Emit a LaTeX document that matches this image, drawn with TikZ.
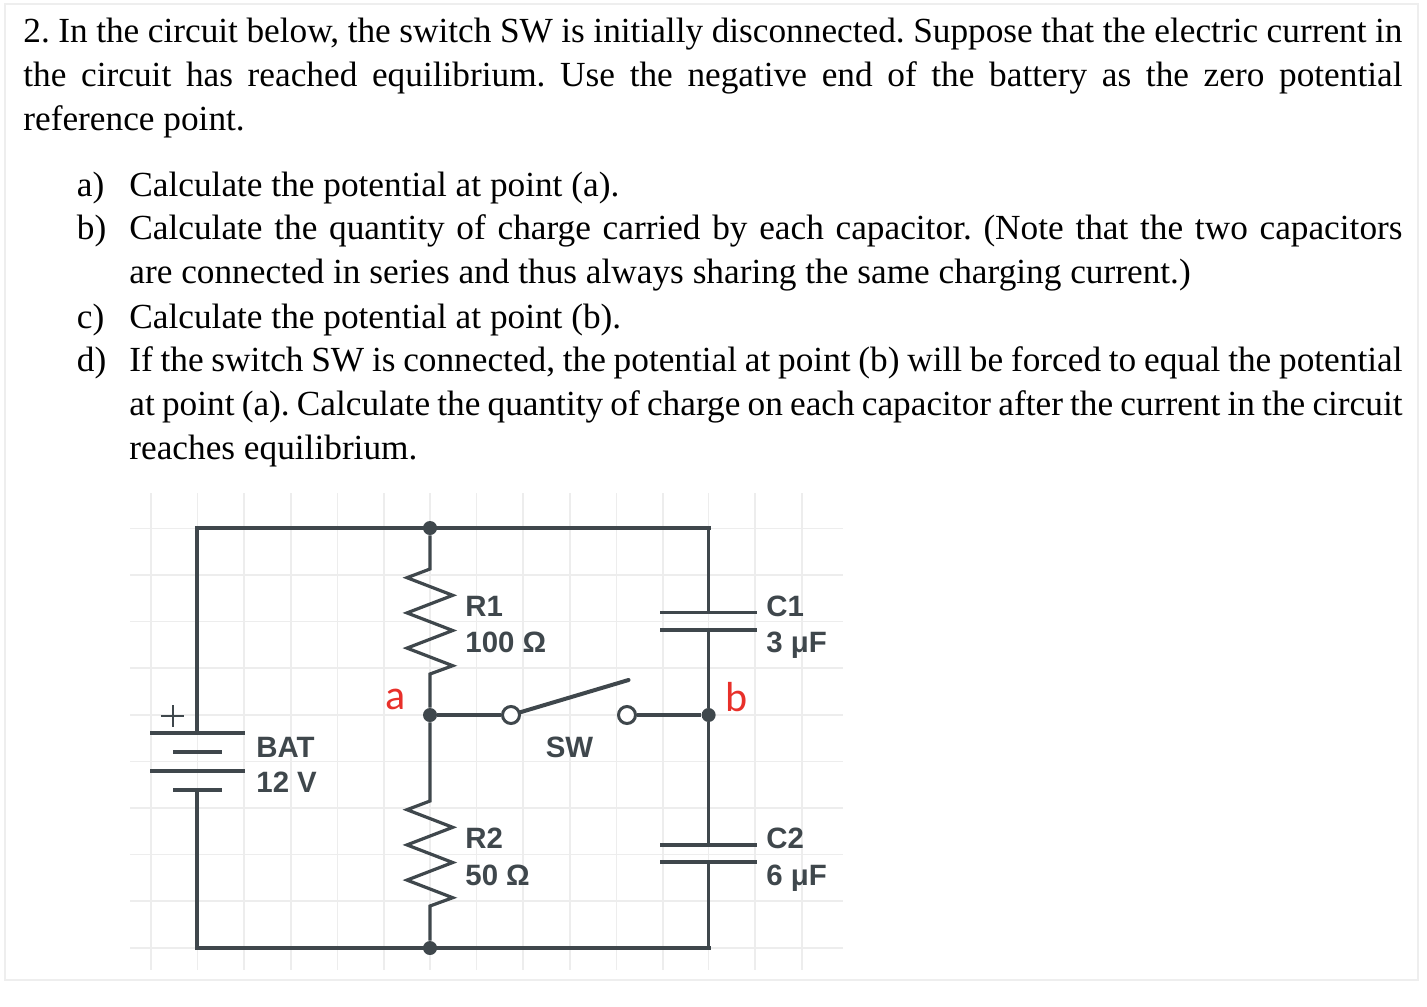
\documentclass[tikz,border=0pt]{standalone}
\usepackage{fontspec}
\setmainfont{Liberation Serif}
\newfontfamily\labelfont{Liberation Sans}
\newfontfamily\markfont{Carlito}
\definecolor{wirecol}{HTML}{3F474C}
\definecolor{gridcol}{HTML}{EDEDED}
\definecolor{framecol}{HTML}{EEEEEE}
\definecolor{markcol}{HTML}{E8302A}
\tolerance=9999
\hyphenpenalty=10000
\emergencystretch=3em
\frenchspacing
\tikzset{
  wire/.style={line width=1.6pt, wirecol},
  rail/.style={line width=1.9pt, wirecol},
  plate/.style={line width=1.6pt, wirecol},
  gridline/.style={line width=0.8pt, gridcol},
  junction/.style={circle, fill=wirecol, inner sep=0pt, minimum size=7pt},
  terminal/.style={circle, draw=wirecol, line width=1.5pt, fill=white, inner sep=0pt, minimum size=8.5pt},
  parttext/.style={inner sep=0pt, anchor=west, text height=10.5pt, text depth=0pt, wirecol, font=\labelfont\bfseries\fontsize{14.7}{15}\selectfont},
  marktext/.style={inner sep=0pt, markcol, font=\markfont\fontsize{21}{21}\selectfont},
  bodytext/.style={inner sep=0pt, anchor=north west, align=justify, font=\fontsize{17.64}{22}\selectfont},
  marktop/.style={inner sep=0pt, anchor=north west, font=\fontsize{17.64}{22}\selectfont},
}
\begin{document}
\begin{tikzpicture}[x=0.5pt,y=-0.5pt]
    \useasboundingbox (0,0) rectangle (1427,1006);
    \fill[white] (0,0) rectangle (1427,1006);
    \draw[framecol, line width=1pt] (5,4) rectangle (1418,980);

    % question text
    \node[bodytext, text width=689.5pt] (intro) at (23,11) {\strut 2. In the circuit below, the switch SW is initially disconnected. Suppose that the electric current in\linebreak
        the circuit has reached equilibrium. Use the negative end of the battery as the zero potential\linebreak
        reference point.\strut};
    \node[marktop] (la) at (76.5,165) {\strut a)};
    \node[bodytext, text width=636.5pt] (qa) at (129,165) {\strut Calculate the potential at point (a).};
    \node[marktop] (lb) at (76.5,208.5) {\strut b)};
    \node[bodytext, text width=636.5pt] (qb) at (129,208.5) {\strut Calculate the quantity of charge carried by each capacitor. (Note that the two capacitors\linebreak
        are connected in series and thus always sharing the same charging current.)\strut};
    \node[marktop] (lc) at (76.5,297) {\strut c)};
    \node[bodytext, text width=636.5pt] (qc) at (129,297) {\strut Calculate the potential at point (b).};
    \node[marktop] (ld) at (76.5,340.5) {\strut d)};
    \node[bodytext, text width=636.5pt] (qd) at (129,340.5) {\strut If the switch SW is connected, the potential at point (b) will be forced to equal the potential\linebreak
        at point (a). Calculate the quantity of charge on each capacitor after the current in the circuit\linebreak
        reaches equilibrium.\strut};

    % grid behind the circuit
    \foreach \gx in {151,197.6,244.2,290.8,337.4,384,430,476.6,523.2,569.8,616.4,663,708.6,755.2,801.8}
        \draw[gridline] (\gx,493) -- (\gx,970);
    \foreach \gy in {528.3,574.9,621.5,668.1,714.7,761.3,807.9,854.5,901.1,947.7}
        \draw[gridline] (130,\gy) -- (843,\gy);

    % junctions and terminals
    \node[junction] (topjoin) at (430,528) {};
    \node[junction] (ajoin) at (430,715) {};
    \node[junction] (botjoin) at (430,948) {};
    \node[junction] (bjoin) at (708.6,715) {};
    \coordinate (topleft) at (197,528);
    \coordinate (topright) at (708.6,528);
    \coordinate (botleft) at (197,948);
    \coordinate (botright) at (708.6,948);

    % battery
    \coordinate (batplus) at (197,733);
    \coordinate (batminus) at (197,790);
    \draw[wire] (batplus) -- (topleft);
    \draw[wire] (topright) -- (708.6,612.5);
    \draw[rail, line cap=rect] (topleft) -- (topright);
    \draw[wire] (batminus) -- (botleft);
    \draw[wire] (botright) -- (708.6,862);
    \draw[rail, line cap=rect] (botleft) -- (botright);
    \draw[plate] (150,733) -- (245,733);
    \draw[plate] (173,752) -- (222,752);
    \draw[plate] (150,771) -- (245,771);
    \draw[plate] (173,790) -- (222,790);
    \draw[wirecol, line width=1pt] (161,716) -- (184,716) (172.5,705) -- (172.5,727);

    % resistors
    \coordinate (r1top) at (430,569);
    \coordinate (r1bot) at (430,674);
    \coordinate (r2top) at (430,801);
    \coordinate (r2bot) at (430,906);
    \draw[wire, line join=miter] (topjoin) -- (r1top) -- ++(-23,8.7) -- ++(45.7,17.6) -- ++(-45.7,17.6) -- ++(45.7,17.6) -- ++(-45.7,17.6) -- ++(45.7,17.6) -- (r1bot) -- (ajoin);
    \draw[wire, line join=miter] (ajoin) -- (r2top) -- ++(-23,8.7) -- ++(45.7,17.6) -- ++(-45.7,17.6) -- ++(45.7,17.6) -- ++(-45.7,17.6) -- ++(45.7,17.6) -- (r2bot) -- (botjoin);

    % capacitors
    \draw[plate] (660,612.5) -- (756.5,612.5);
    \draw[plate] (660,630) -- (756.5,630);
    \draw[wire] (708.6,630) -- (bjoin) -- (708.6,845);
    \draw[plate] (660,845) -- (756.5,845);
    \draw[plate] (660,862) -- (756.5,862);

    % switch
    \node[terminal] (swleft) at (511,715) {};
    \node[terminal] (swright) at (627,715) {};
    \coordinate (swtip) at (628.5,680);
    \draw[wire] (ajoin) -- (swleft);
    \draw[wire] (swright) -- (bjoin);
    \draw[wirecol, line width=2pt, line cap=round] (swleft) -- (swtip);

    % labels
    \node[parttext] (r1name) at (465,606) {R1};
    \node[parttext] (r1val) at (465,642) {100 Ω};
    \node[parttext] (r2name) at (465,838) {R2};
    \node[parttext] (r2val) at (465,875) {50 Ω};
    \node[parttext] (batname) at (256,747) {BAT};
    \node[parttext] (batval) at (256,782) {12 V};
    \node[parttext, anchor=center] (swname) at (569.5,747) {SW};
    \node[parttext] (c1name) at (766,606) {C1};
    \node[parttext] (c1val) at (766,642) {3 μF};
    \node[parttext] (c2name) at (766,838) {C2};
    \node[parttext] (c2val) at (766,875) {6 μF};
    \node[marktext] (amark) at (395.5,699) {a};
    \node[marktext] (bmark) at (737,697) {b};
\end{tikzpicture}
\end{document}
